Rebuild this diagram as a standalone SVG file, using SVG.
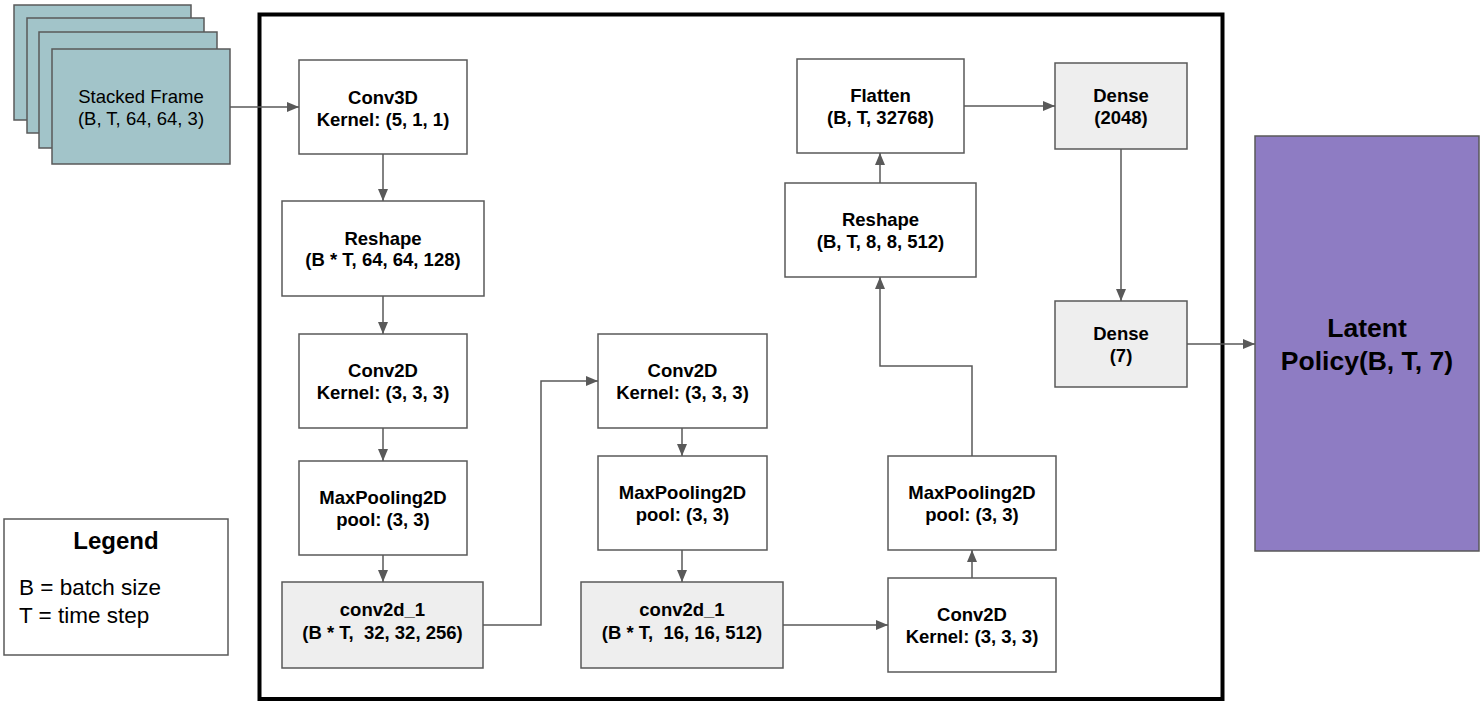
<svg xmlns="http://www.w3.org/2000/svg" width="1482" height="707" viewBox="0 0 1482 707">
  <style>
    .box { fill: #ffffff; stroke: #595959; stroke-width: 1.5; }
    .grey { fill: #eeeeee; stroke: #595959; stroke-width: 1.5; }
    .frame { fill: #a2c4c9; stroke: #595959; stroke-width: 1.5; }
    .out { fill: #8e7cc3; stroke: #595959; stroke-width: 1.5; }
    .lbl { font-family: "Liberation Sans", Arial, sans-serif; font-size: 18.5px; font-weight: bold; fill: #000000; text-anchor: middle; }
    .reg { font-family: "Liberation Sans", Arial, sans-serif; font-size: 18.5px; fill: #000000; text-anchor: middle; }
    .wire { fill: none; stroke: #595959; stroke-width: 1.5; }
  </style>
  <defs>
    <marker id="head" markerUnits="userSpaceOnUse" markerWidth="12" markerHeight="10" refX="12" refY="5" orient="auto">
      <path d="M0,0 L12,5 L0,10 z" fill="#595959"/>
    </marker>
  </defs>

  <rect width="1482" height="707" fill="#ffffff"/>

  <!-- model boundary -->
  <rect id="model-boundary" x="259.5" y="14.5" width="963" height="684.5" fill="none" stroke="#000000" stroke-width="4"/>

  <!-- input stack -->
  <g id="stacked-frame">
    <rect class="frame" x="14" y="5" width="177" height="115"/>
    <rect class="frame" x="27" y="18" width="177" height="115"/>
    <rect class="frame" x="39" y="32" width="178" height="116"/>
    <rect class="frame" x="52" y="49" width="178" height="115"/>
    <text class="reg" x="141" y="103">Stacked Frame</text>
    <text class="reg" x="141" y="125">(B, T, 64, 64, 3)</text>
  </g>

  <g id="conv3d">
    <rect class="box" x="299" y="60" width="168" height="94"/>
    <text class="lbl" x="383" y="103.5">Conv3D</text>
    <text class="lbl" x="383" y="126">Kernel: (5, 1, 1)</text>
  </g>

  <g id="reshape-1">
    <rect class="box" x="282" y="201" width="202" height="95"/>
    <text class="lbl" x="383" y="244.5">Reshape</text>
    <text class="lbl" x="383" y="266">(B * T, 64, 64, 128)</text>
  </g>

  <g id="conv2d-1">
    <rect class="box" x="299" y="334" width="168" height="94"/>
    <text class="lbl" x="383" y="377">Conv2D</text>
    <text class="lbl" x="383" y="399">Kernel: (3, 3, 3)</text>
  </g>

  <g id="maxpool-1">
    <rect class="box" x="299" y="461" width="168" height="94"/>
    <text class="lbl" x="383" y="504">MaxPooling2D</text>
    <text class="lbl" x="383" y="526">pool: (3, 3)</text>
  </g>

  <g id="conv2d-1-out">
    <rect class="grey" x="282" y="582" width="201" height="86"/>
    <text class="lbl" x="382.5" y="616">conv2d_1</text>
    <text class="lbl" x="382.5" y="639" xml:space="preserve">(B * T,  32, 32, 256)</text>
  </g>

  <g id="conv2d-2">
    <rect class="box" x="598" y="334" width="169" height="94"/>
    <text class="lbl" x="682.5" y="377">Conv2D</text>
    <text class="lbl" x="682.5" y="399">Kernel: (3, 3, 3)</text>
  </g>

  <g id="maxpool-2">
    <rect class="box" x="598" y="456" width="169" height="94"/>
    <text class="lbl" x="682.5" y="499">MaxPooling2D</text>
    <text class="lbl" x="682.5" y="521">pool: (3, 3)</text>
  </g>

  <g id="conv2d-2-out">
    <rect class="grey" x="581" y="582" width="202" height="86"/>
    <text class="lbl" x="682" y="616">conv2d_1</text>
    <text class="lbl" x="682" y="639" xml:space="preserve">(B * T,  16, 16, 512)</text>
  </g>

  <g id="conv2d-3">
    <rect class="box" x="888" y="578" width="168" height="94"/>
    <text class="lbl" x="972" y="621">Conv2D</text>
    <text class="lbl" x="972" y="643">Kernel: (3, 3, 3)</text>
  </g>

  <g id="maxpool-3">
    <rect class="box" x="888" y="456" width="168" height="94"/>
    <text class="lbl" x="972" y="499">MaxPooling2D</text>
    <text class="lbl" x="972" y="521">pool: (3, 3)</text>
  </g>

  <g id="reshape-2">
    <rect class="box" x="785" y="183" width="191" height="94"/>
    <text class="lbl" x="880.5" y="226">Reshape</text>
    <text class="lbl" x="880.5" y="248">(B, T, 8, 8, 512)</text>
  </g>

  <g id="flatten">
    <rect class="box" x="797" y="59" width="167" height="94"/>
    <text class="lbl" x="880.5" y="102">Flatten</text>
    <text class="lbl" x="880.5" y="124">(B, T, 32768)</text>
  </g>

  <g id="dense-2048">
    <rect class="grey" x="1055" y="63" width="132" height="86"/>
    <text class="lbl" x="1121" y="102">Dense</text>
    <text class="lbl" x="1121" y="124">(2048)</text>
  </g>

  <g id="dense-7">
    <rect class="grey" x="1055" y="301" width="132" height="86"/>
    <text class="lbl" x="1121" y="340">Dense</text>
    <text class="lbl" x="1121" y="362">(7)</text>
  </g>

  <g id="latent-policy">
    <rect class="out" x="1255" y="136" width="224" height="415"/>
    <text class="lbl" x="1367" y="337" style="font-size:26.5px">Latent</text>
    <text class="lbl" x="1367" y="370" style="font-size:26.5px">Policy(B, T, 7)</text>
  </g>

  <g id="legend">
    <rect x="4" y="519" width="224" height="136" fill="#ffffff" stroke="#595959" stroke-width="1.5"/>
    <text x="116" y="549" style="font-family:'Liberation Sans', Arial, sans-serif; font-size:24px; font-weight:bold; text-anchor:middle">Legend</text>
    <text x="19" y="595" style="font-family:'Liberation Sans', Arial, sans-serif; font-size:22.5px">B = batch size</text>
    <text x="19" y="623" style="font-family:'Liberation Sans', Arial, sans-serif; font-size:22.5px">T = time step</text>
  </g>

  <!-- connectors -->
  <g id="connectors">
    <path class="wire" d="M230,107 L299,107" marker-end="url(#head)"/>
    <path class="wire" d="M383,154 L383,201" marker-end="url(#head)"/>
    <path class="wire" d="M383,296 L383,334" marker-end="url(#head)"/>
    <path class="wire" d="M383,428 L383,461" marker-end="url(#head)"/>
    <path class="wire" d="M383,555 L383,582" marker-end="url(#head)"/>
    <path class="wire" d="M483,625 L541,625 L541,381 L598,381" marker-end="url(#head)"/>
    <path class="wire" d="M682,428 L682,456" marker-end="url(#head)"/>
    <path class="wire" d="M682,550 L682,582" marker-end="url(#head)"/>
    <path class="wire" d="M783,625 L888,625" marker-end="url(#head)"/>
    <path class="wire" d="M972,578 L972,550" marker-end="url(#head)"/>
    <path class="wire" d="M972,456 L972,366 L880,366 L880,277" marker-end="url(#head)"/>
    <path class="wire" d="M880,183 L880,153" marker-end="url(#head)"/>
    <path class="wire" d="M964,106 L1055,106" marker-end="url(#head)"/>
    <path class="wire" d="M1121,149 L1121,301" marker-end="url(#head)"/>
    <path class="wire" d="M1187,344 L1255,344" marker-end="url(#head)"/>
  </g>
</svg>
